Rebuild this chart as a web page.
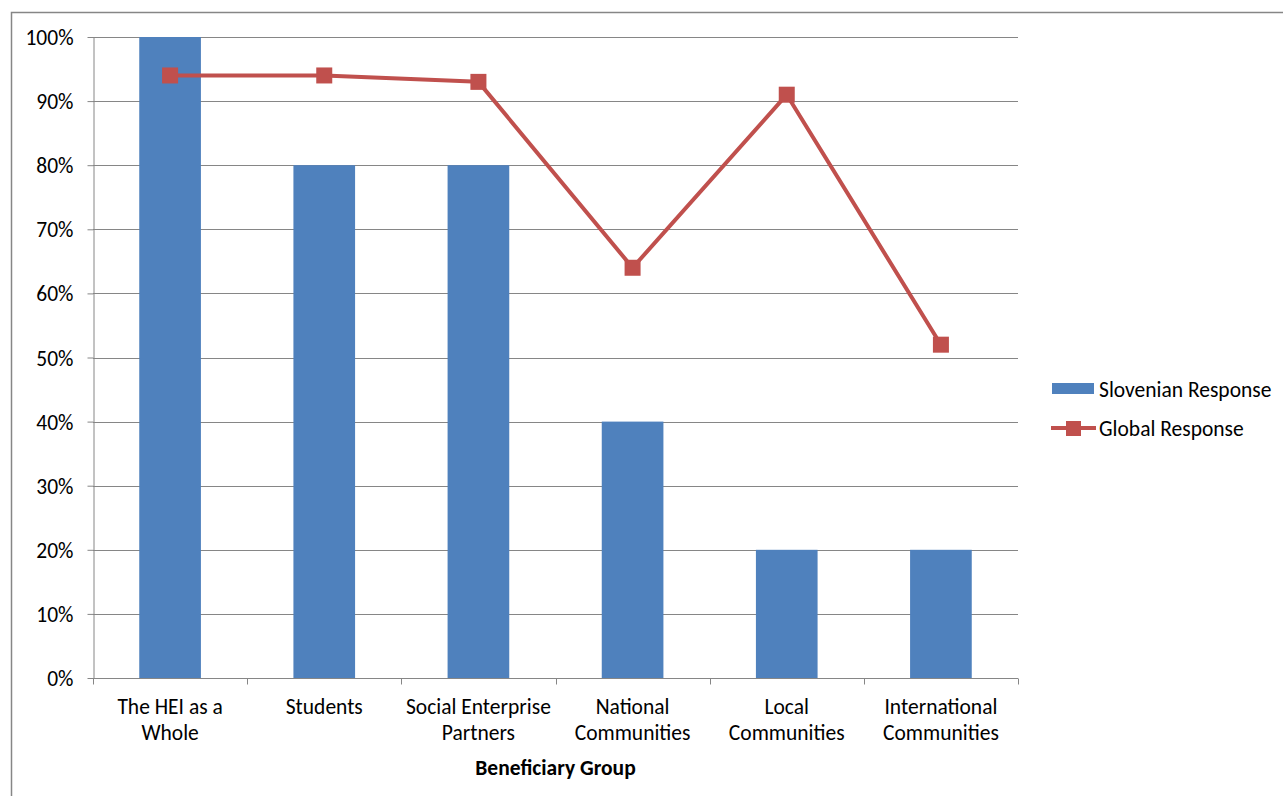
<!DOCTYPE html>
<html lang="en">
  <head>
    <meta charset="UTF-8" />
    <title>Beneficiary Group</title>
    <script src="https://d3js.org/d3.v7.min.js"></script>
    <style>
      * {
        margin: 0;
        padding: 0;
        box-sizing: border-box;
      }
      body {
        background: #ffffff;
        font-family: "Carlito", "Lato", sans-serif;
        overflow: hidden;
      }
      .axis text,
      .legend text {
        font-family: "Carlito", "Lato", sans-serif;
        font-size: 21.5px;
        fill: #000;
      }
      .axis path,
      .axis line {
        stroke: #868686;
      }
      .grid line {
        stroke: #868686;
        stroke-width: 1;
      }
      .axis-title {
        font-family: "Carlito", "Lato", sans-serif;
        font-size: 21.5px;
        font-weight: 700;
      }
    </style>
  </head>
  <body>
    <div id="chart"></div>
    <script>
      const categories = [
        ["The HEI as a", "Whole"],
        ["Students"],
        ["Social Enterprise", "Partners"],
        ["National", "Communities"],
        ["Local", "Communities"],
        ["International", "Communities"],
      ];
      const slovenianResponse = [100, 80, 80, 40, 20, 20];
      const globalResponse = [94, 94, 93, 64, 91, 52];
      const yTicks = [0, 10, 20, 30, 40, 50, 60, 70, 80, 90, 100];
      const seriesNames = ["Slovenian Response", "Global Response"];

      const W = 1283,
        H = 796;
      const plot = { left: 93, right: 1018, top: 37, bottom: 678 };
      const blue = "#4F81BD",
        red = "#C0504D";

      const svg = d3
        .select("#chart")
        .append("svg")
        .attr("width", W)
        .attr("height", H);

      // outer chart border (runs off the page on the right/bottom)
      svg
        .append("rect")
        .attr("x", 11.5)
        .attr("y", 12.5)
        .attr("width", W + 20)
        .attr("height", H + 20)
        .attr("fill", "none")
        .attr("stroke", "#868686")
        .attr("stroke-width", 1.5);

      const keys = categories.map((d, i) => i);
      const x = d3
        .scaleBand()
        .domain(keys)
        .range([plot.left, plot.right])
        .paddingInner(0.6)
        .paddingOuter(0.3);

      const y = d3
        .scaleLinear()
        .domain([0, 100])
        .range([plot.bottom, plot.top]);

      // gridlines
      svg
        .append("g")
        .attr("class", "grid")
        .selectAll("line")
        .data(yTicks.filter((d) => d > 0))
        .join("line")
        .attr("x1", plot.left)
        .attr("x2", plot.right)
        .attr("y1", (d) => Math.round(y(d)) + 0.5)
        .attr("y2", (d) => Math.round(y(d)) + 0.5);

      // bars
      svg
        .selectAll(".bar")
        .data(slovenianResponse)
        .join("rect")
        .attr("class", "bar")
        .attr("x", (d, i) => x(i))
        .attr("width", x.bandwidth())
        .attr("y", (d) => y(d))
        .attr("height", (d) => y(0) - y(d))
        .attr("fill", blue);

      // y axis
      svg
        .append("g")
        .attr("class", "axis")
        .attr("transform", `translate(${plot.left + 0.5},0)`)
        .call(
          d3
            .axisLeft(y)
            .tickValues(yTicks)
            .tickFormat((d) => d + "%")
            .tickSize(6)
            .tickSizeOuter(0)
            .tickPadding(14)
        )
        .call((g) => g.attr("font-family", null).attr("font-size", null))
        .call((g) => g.selectAll("text").attr("dy", "0.35em"));

      // x axis with ticks at category boundaries
      const xAxis = svg
        .append("g")
        .attr("class", "axis")
        .attr("transform", `translate(0,${plot.bottom + 0.5})`);
      xAxis
        .append("line")
        .attr("x1", plot.left)
        .attr("x2", plot.right)
        .attr("stroke", "#868686");
      const step = x.step();
      xAxis
        .selectAll(".tick-b")
        .data(d3.range(categories.length + 1))
        .join("line")
        .attr("x1", (d) => Math.round(plot.left + d * step) + 0.5)
        .attr("x2", (d) => Math.round(plot.left + d * step) + 0.5)
        .attr("y1", 0)
        .attr("y2", 6)
        .attr("stroke", "#868686");
      xAxis
        .selectAll("text")
        .data(categories)
        .join("text")
        .attr("x", (d, i) => x(i) + x.bandwidth() / 2)
        .attr("y", 35)
        .attr("text-anchor", "middle")
        .selectAll("tspan")
        .data((d) => d)
        .join("tspan")
        .attr("x", function () {
          return this.parentNode.getAttribute("x");
        })
        .attr("dy", (d, i) => (i === 0 ? 0 : 26))
        .text((d) => d);

      svg
        .append("text")
        .attr("class", "axis-title")
        .attr("x", (plot.left + plot.right) / 2)
        .attr("y", 775)
        .attr("text-anchor", "middle")
        .text("Beneficiary Group");

      // global response line
      const line = d3
        .line()
        .x((d, i) => x(i) + x.bandwidth() / 2)
        .y((d) => y(d));
      svg
        .append("path")
        .datum(globalResponse)
        .attr("d", line)
        .attr("fill", "none")
        .attr("stroke", red)
        .attr("stroke-width", 4)
        .attr("stroke-linejoin", "round");
      svg
        .selectAll(".marker")
        .data(globalResponse)
        .join("rect")
        .attr("class", "marker")
        .attr("x", (d, i) => x(i) + x.bandwidth() / 2 - 8)
        .attr("y", (d) => y(d) - 8)
        .attr("width", 16)
        .attr("height", 16)
        .attr("fill", red);

      // legend
      const legend = svg.append("g").attr("class", "legend");
      legend
        .append("rect")
        .attr("x", 1052)
        .attr("y", 383)
        .attr("width", 42)
        .attr("height", 11)
        .attr("fill", blue);
      legend
        .append("text")
        .attr("x", 1099)
        .attr("y", 389)
        .attr("dy", "0.35em")
        .text(seriesNames[0]);
      legend
        .append("line")
        .attr("x1", 1051)
        .attr("x2", 1096)
        .attr("y1", 428)
        .attr("y2", 428)
        .attr("stroke", red)
        .attr("stroke-width", 4);
      legend
        .append("rect")
        .attr("x", 1066)
        .attr("y", 421)
        .attr("width", 15)
        .attr("height", 15)
        .attr("fill", red);
      legend
        .append("text")
        .attr("x", 1099)
        .attr("y", 428)
        .attr("dy", "0.35em")
        .text(seriesNames[1]);
    </script>
  </body>
</html>
